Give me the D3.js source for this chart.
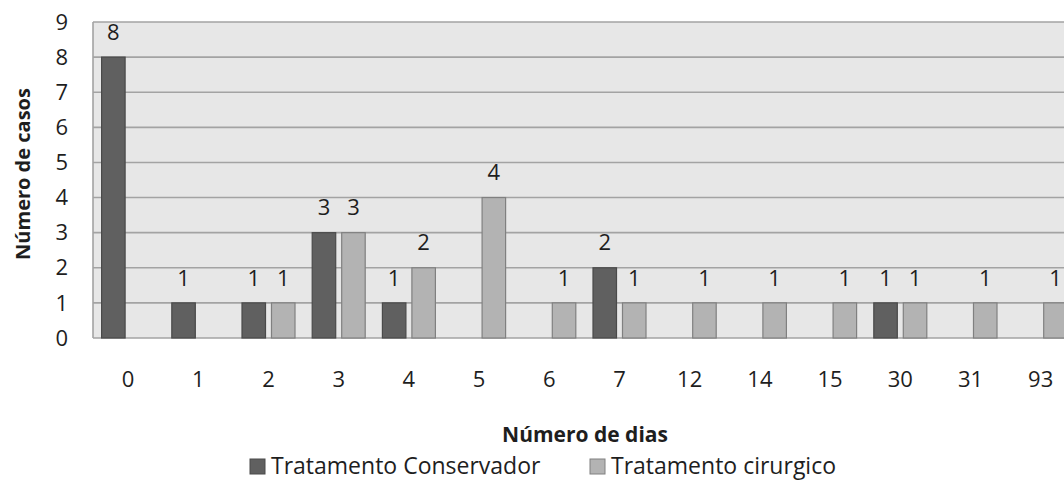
<!DOCTYPE html>
<html>
<head>
    <meta charset="utf-8">
    <script src="https://d3js.org/d3.v7.min.js"></script>
    <style>
        body { margin: 0; background: #fff; }
        text { font-family: "Open Sans", sans-serif; fill: #1e1e1e; }
    </style>
</head>
<body>
    <svg width="1064" height="486"></svg>
    <script>
        // categorias (número de dias) e valores das séries
        const dias = ["0", "1", "2", "3", "4", "5", "6", "7", "12", "14", "15", "30", "31", "93"];
        const conservador = [8, 1, 1, 3, 1, 0, 0, 2, 0, 0, 0, 1, 0, 0];
        const cirurgico = [0, 0, 1, 3, 2, 4, 1, 1, 1, 1, 1, 1, 1, 1];
        const seriesNames = ["Tratamento Conservador", "Tratamento cirurgico"];
        const yTicks = [0, 1, 2, 3, 4, 5, 6, 7, 8, 9];

        const svg = d3.select("svg");
        const plotLeft = 93, plotTop = 22, plotBottom = 338;
        const step = 70.2;
        const plotRight = plotLeft + step * dias.length;

        const x0 = d3.scaleBand().domain(dias).range([plotLeft, plotRight]);
        const x1 = d3.scaleBand().domain(seriesNames)
            .range([8.6, x0.bandwidth() - 8.6]).paddingInner(0.203);
        const y = d3.scaleLinear().domain([0, 9]).range([plotBottom, plotTop]);

        const fills = ["#606060", "#b3b3b3"];
        const strokes = ["#4a4a4a", "#808080"];

        // plot background
        svg.append("rect").attr("x", plotLeft).attr("y", plotTop)
            .attr("width", plotRight - plotLeft).attr("height", plotBottom - plotTop)
            .attr("fill", "#e7e7e7");

        // gridlines
        svg.append("g").selectAll("line").data(yTicks).enter().append("line")
            .attr("x1", plotLeft).attr("x2", plotRight)
            .attr("y1", d => y(d)).attr("y2", d => y(d))
            .attr("stroke", "#a3a3a3").attr("stroke-width", 1.6);

        svg.append("line").attr("x1", plotLeft).attr("x2", plotLeft)
            .attr("y1", plotTop).attr("y2", plotBottom)
            .attr("stroke", "#a3a3a3").attr("stroke-width", 1.6);

        // y tick labels
        svg.append("g").selectAll("text").data(yTicks).enter().append("text")
            .attr("x", 68).attr("y", d => y(d)).attr("dy", "0.35em")
            .attr("text-anchor", "end").attr("font-size", 22)
            .text(d => d);

        // x tick labels
        svg.append("g").selectAll("text").data(dias).enter().append("text")
            .attr("x", d => x0(d) + x0.bandwidth() / 2).attr("y", 379).attr("dy", "0.35em")
            .attr("text-anchor", "middle").attr("font-size", 22)
            .text(d => d);

        // bars
        const rows = dias.map((d, i) => ({ dia: d, vals: [conservador[i], cirurgico[i]] }));
        const groups = svg.append("g").selectAll("g").data(rows).enter().append("g")
            .attr("transform", d => `translate(${x0(d.dia)},0)`);

        const cells = groups.selectAll("g")
            .data(d => d.vals.map((v, k) => ({ v, k })).filter(c => c.v > 0))
            .enter().append("g");

        cells.append("rect")
            .attr("x", c => x1(seriesNames[c.k]))
            .attr("width", x1.bandwidth())
            .attr("y", c => y(c.v))
            .attr("height", c => y(0) - y(c.v))
            .attr("fill", c => fills[c.k])
            .attr("stroke", c => strokes[c.k]).attr("stroke-width", 1.2);

        cells.append("text")
            .attr("x", c => x1(seriesNames[c.k]) + x1.bandwidth() / 2)
            .attr("y", c => y(c.v) - 25).attr("dy", "0.35em")
            .attr("text-anchor", "middle").attr("font-size", 22)
            .text(c => c.v);

        // axis titles
        svg.append("text").attr("transform", "translate(23,174) rotate(-90)")
            .attr("text-anchor", "middle").attr("dy", "0.35em")
            .attr("font-size", 20).attr("font-weight", "bold")
            .text("Número de casos");

        svg.append("text").attr("x", 585).attr("y", 435).attr("dy", "0.35em")
            .attr("text-anchor", "middle").attr("font-size", 21).attr("font-weight", "bold")
            .text("Número de dias");

        // legend
        const legendX = [250, 590];
        const leg = svg.append("g").selectAll("g").data(seriesNames).enter().append("g")
            .attr("transform", (d, i) => `translate(${legendX[i]},466)`);
        leg.append("rect").attr("x", 0).attr("y", -7).attr("width", 15).attr("height", 15)
            .attr("fill", (d, i) => fills[i]).attr("stroke", (d, i) => strokes[i]);
        leg.append("text").attr("x", 21).attr("dy", "0.35em").attr("font-size", 23)
            .text(d => d);
    </script>
</body>
</html>
